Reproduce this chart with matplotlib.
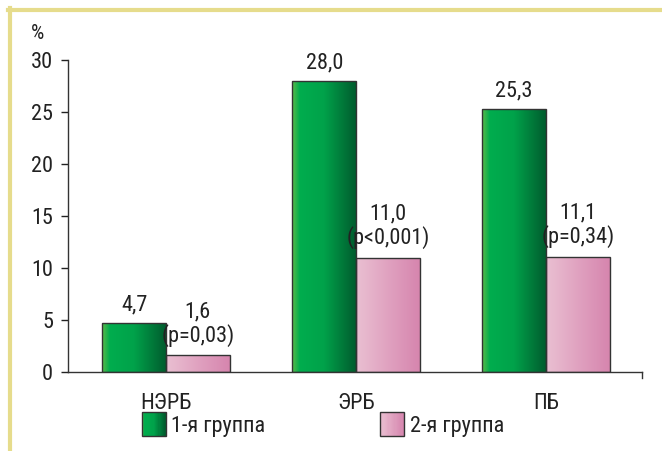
import matplotlib.pyplot as plt
import matplotlib.patches as mpatches
from matplotlib.legend_handler import HandlerBase
from matplotlib.colors import LinearSegmentedColormap
import numpy as np

plt.rcParams['font.family'] = ['Roboto Condensed', 'Liberation Sans', 'DejaVu Sans']

categories = ["НЭРБ", "ЭРБ", "ПБ"]
group1 = [4.7, 28.0, 25.3]
group2 = [1.6, 11.0, 11.1]
group1_labels = ["4,7", "28,0", "25,3"]
group2_labels = ["1,6\n(p=0,03)", "11,0\n(p<0,001)", "11,1\n(p=0,34)"]
series_names = ["1-я группа", "2-я группа"]
yticks = [0, 5, 10, 15, 20, 25, 30]

green_cmap = LinearSegmentedColormap.from_list(
    "g", [(0, "#5cbb4a"), (0.12, "#00ad4e"), (0.5, "#00a24a"), (1, "#005c2e")])
pink_cmap = LinearSegmentedColormap.from_list(
    "p", [(0, "#eac0d2"), (0.5, "#e0a2c0"), (1, "#d685ae")])
txt = '#222222'
fs = 16

fig = plt.figure(figsize=(6.62, 4.51), dpi=100)
ax = fig.add_axes([68 / 662, 1 - 372 / 451, (642 - 68) / 662, (372 - 60) / 451])

x = np.arange(len(categories))
w = 0.335
grad = np.linspace(0, 1, 256).reshape(1, -1)


def gradient_bars(bars, cmap):
    for b in bars:
        x0, y0 = b.get_x(), b.get_y()
        im = ax.imshow(grad, cmap=cmap, aspect='auto',
                       extent=(x0, x0 + b.get_width(), y0, y0 + b.get_height()),
                       zorder=2)
        im.set_clip_path(b)


bars1 = ax.bar(x - w / 2, group1, w, facecolor='none', edgecolor='#333333', linewidth=1, zorder=3)
bars2 = ax.bar(x + w / 2, group2, w, facecolor='none', edgecolor='#333333', linewidth=1, zorder=3)
gradient_bars(bars1, green_cmap)
gradient_bars(bars2, pink_cmap)

for xi, v, t in zip(x, group1, group1_labels):
    ax.text(xi - w / 2, v + 0.7, t, ha='center', va='bottom', fontsize=fs, color=txt)
for xi, v, t in zip(x, group2, group2_labels):
    ax.text(xi + w / 2, v + 0.85, t, ha='center', va='bottom', fontsize=fs,
            color=txt, linespacing=1.05)

ax.set_xlim(-0.516, 2.505)
ax.set_ylim(0, 30)
ax.set_yticks(yticks)
ax.set_yticklabels([str(t) for t in yticks])
ax.set_xticks(x)
ax.set_xticklabels(categories)
ax.tick_params(axis='x', length=0, pad=15, labelsize=fs, colors=txt)
ax.tick_params(axis='y', length=4.7, width=1, pad=6, labelsize=fs, colors=txt)
ax.spines['top'].set_visible(False)
ax.spines['right'].set_visible(False)
for s in ('left', 'bottom'):
    ax.spines[s].set_color('#333333')
    ax.spines[s].set_linewidth(1)
ax.plot([1, 1], [0, -0.02], transform=ax.transAxes, color='#333333', lw=1, clip_on=False)
ax.text(-0.053, 1.085, "%", transform=ax.transAxes, fontsize=15, ha='center', va='center', color=txt)


class GradHandler(HandlerBase):
    def __init__(self, cmap, size=17.3):
        super().__init__()
        self.cmap = cmap
        self.size = size

    def create_artists(self, legend, orig, xd, yd, width, height, fontsize, trans):
        s = self.size
        y0 = yd + height / 2 - s / 2
        x0 = xd + width - s
        arts = []
        n = 20
        for i in range(n):
            r = mpatches.Rectangle((x0 + s * i / n, y0), s / n + 0.3, s,
                                   facecolor=self.cmap((i + 0.5) / n), edgecolor='none',
                                   transform=trans)
            arts.append(r)
        arts.append(mpatches.Rectangle((x0, y0), s, s, facecolor='none',
                                       edgecolor='#333333', lw=1, transform=trans))
        return arts


leg_x = [141.5 / 662, 380 / 662]
for name, cmap, lx in zip(series_names, [green_cmap, pink_cmap], leg_x):
    h = mpatches.Patch(label=name)
    fig.legend([h], [name], handler_map={h: GradHandler(cmap)},
               loc='center left', bbox_to_anchor=(lx, 1 - 426.5 / 451), frameon=False,
               fontsize=fs, handlelength=17.3 / fs, handleheight=0.7, handletextpad=0.25,
               labelcolor=txt, borderpad=0, borderaxespad=0)

# yellow frame lines at top and left
fig.add_artist(plt.Line2D([8 / 662, 1], [1 - 10 / 451, 1 - 10 / 451], color='#e6dc8c', lw=3))
fig.add_artist(plt.Line2D([10 / 662, 10 / 662], [0, 1 - 8 / 451], color='#e6dc8c', lw=3))

fig.savefig('out.png', dpi=100)
